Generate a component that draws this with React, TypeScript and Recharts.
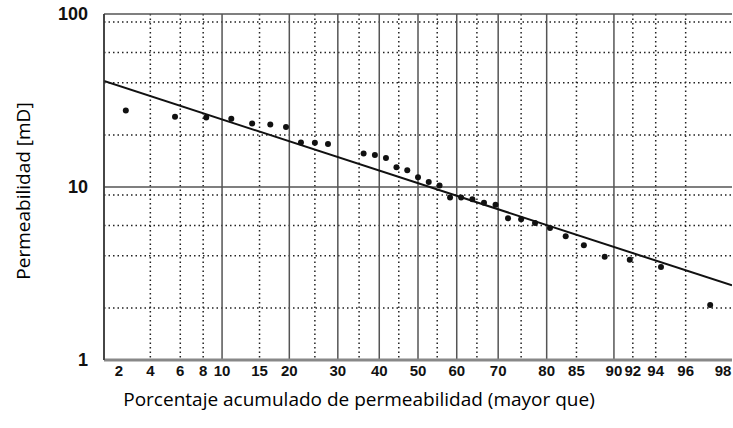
import React from 'react'
import { ComposedChart, Line, Scatter, XAxis, YAxis, CartesianGrid, Label } from 'recharts'

// probability axis: cumulative percent, drawn on a normal-quantile scale
const tickPct = [2, 4, 6, 8, 10, 15, 20, 30, 40, 50, 60, 70, 80, 85, 90, 92, 94, 96, 98]
const solidPct = [2, 10, 20, 30, 40, 50, 60, 70, 80, 90]
const dottedPct = [4, 6, 8, 15, 25, 35, 45, 55, 65, 75, 85, 92, 94, 96]

// log axis (mD)
const yTicks = [1, 10, 100]
const solidK = [1, 10, 100]
const dottedK = [2, 3, 4, 5, 6, 7, 8, 9, 20, 30, 40, 50, 60, 70, 80, 90]

// samples
const samplePct = [2.8, 5.6, 8.3, 11.1, 13.9, 16.7, 19.4, 22.2, 25, 27.8, 36.1, 38.9, 41.7, 44.4, 47.2, 50, 52.8, 55.6, 58.3, 61.1, 63.9, 66.7, 69.4, 72.2, 75, 77.8, 80.6, 83.3, 86.1, 88.9, 91.7, 94.4, 97.2]
const sampleK = [27.7, 25.5, 25.2, 24.8, 23.3, 23.0, 22.2, 18.1, 18.0, 17.7, 15.6, 15.3, 14.7, 13.0, 12.5, 11.4, 10.7, 10.2, 8.7, 8.7, 8.5, 8.1, 7.9, 6.6, 6.5, 6.2, 5.8, 5.2, 4.6, 3.95, 3.8, 3.45, 2.08]

// fitted straight line
const fitPct = [2, 98]
const fitK = [41, 2.7]

// inverse normal CDF (Acklam)
function probit(p: number): number {
  const a = [-39.69683028665376, 220.9460984245205, -275.9285104469687, 138.357751867269, -30.66479806614716, 2.506628277459239]
  const b = [-54.47609879822406, 161.5858368580409, -155.6989798598866, 66.80131188771972, -13.28068155288572]
  const c = [-0.007784894002430293, -0.3223964580411365, -2.400758277161838, -2.549732539343734, 4.374664141464968, 2.938163982698783]
  const d = [0.007784695709041462, 0.3224671290700398, 2.445134137142996, 3.754408661907416]
  const pl = 0.02425
  if (p < pl) {
    const q = Math.sqrt(-2 * Math.log(p))
    return (((((c[0] * q + c[1]) * q + c[2]) * q + c[3]) * q + c[4]) * q + c[5]) / ((((d[0] * q + d[1]) * q + d[2]) * q + d[3]) * q + 1)
  }
  if (p > 1 - pl) {
    const q = Math.sqrt(-2 * Math.log(1 - p))
    return -(((((c[0] * q + c[1]) * q + c[2]) * q + c[3]) * q + c[4]) * q + c[5]) / ((((d[0] * q + d[1]) * q + d[2]) * q + d[3]) * q + 1)
  }
  const q = p - 0.5
  const r = q * q
  return (((((a[0] * r + a[1]) * r + a[2]) * r + a[3]) * r + a[4]) * r + a[5]) * q / (((((b[0] * r + b[1]) * r + b[2]) * r + b[3]) * r + b[4]) * r + 1)
}
const zOf = (pct: number) => probit(pct / 100)

const samples = samplePct.map((p, i) => ({ z: zOf(p), k: sampleK[i] }))
const fit = fitPct.map((p, i) => ({ z: zOf(p), k: fitK[i] }))
const xTicks = tickPct.map(zOf)

const numFont = "'Liberation Sans Narrow', 'Liberation Sans', Arial, sans-serif"
const titleFont = "'Open Sans', 'Noto Sans', sans-serif"

const XTick = (props: any) => {
  const { x, y, index } = props
  const label = tickPct[index]
  let dx = 0
  if (label === 2) dx = 15
  if (label === 98) dx = -9
  return (
    <text x={x + dx} y={y} dy={8} textAnchor="middle" fontFamily={numFont} fontWeight="bold" fontSize={15} fill="#111">
      {label}
    </text>
  )
}

const YTick = (props: any) => {
  const { y, payload } = props
  return (
    <text x={88} y={y} dy={6} textAnchor="end" fontFamily={numFont} fontWeight="bold" fontSize={18} fill="#111">
      {payload.value}
    </text>
  )
}

export default function App() {
  return (
    <div style={{ position: 'absolute', left: 0, top: 0, background: '#fff' }}>
      <ComposedChart width={733} height={428} margin={{ top: 14, right: 1, bottom: 0, left: 0 }}>
        <CartesianGrid
          horizontal
          vertical
          horizontalValues={dottedK}
          verticalValues={dottedPct.map(zOf)}
          stroke="#222"
          strokeWidth={1.5}
          strokeDasharray="1.5 3"
        />
        <CartesianGrid
          horizontal
          vertical
          horizontalValues={solidK}
          verticalValues={solidPct.map(zOf)}
          stroke="#555"
          strokeWidth={1.5}
        />
        <XAxis
          type="number"
          dataKey="z"
          domain={[zOf(2), zOf(98)]}
          ticks={xTicks}
          interval={0}
          allowDataOverflow
          height={68}
          axisLine={{ stroke: '#888', strokeWidth: 3 }}
          tickLine={false}
          tick={<XTick />}
        >
          <Label
            content={() => (
              <text x={359} y={406} textAnchor="middle" fontFamily={titleFont} fontSize={19} fill="#000">
                Porcentaje acumulado de permeabilidad (mayor que)
              </text>
            )}
          />
        </XAxis>
        <YAxis
          type="number"
          dataKey="k"
          scale="log"
          domain={[1, 100]}
          ticks={yTicks}
          allowDataOverflow
          width={104}
          axisLine={{ stroke: '#333', strokeWidth: 1.5 }}
          tickLine={false}
          tick={<YTick />}
        >
          <Label
            content={() => (
              <text x={30} y={191} textAnchor="middle" fontFamily={titleFont} fontSize={19} fill="#000" transform="rotate(-90 30 191)">
                Permeabilidad [mD]
              </text>
            )}
          />
        </YAxis>
        <Line
          data={fit}
          dataKey="k"
          type="linear"
          stroke="#111"
          strokeWidth={2}
          dot={false}
          activeDot={false}
          isAnimationActive={false}
        />
        <Scatter
          data={samples}
          dataKey="k"
          fill="#111"
          shape={(p: any) => <circle cx={p.cx} cy={p.cy} r={3} fill="#111" />}
          isAnimationActive={false}
        />
      </ComposedChart>
    </div>
  )
}
